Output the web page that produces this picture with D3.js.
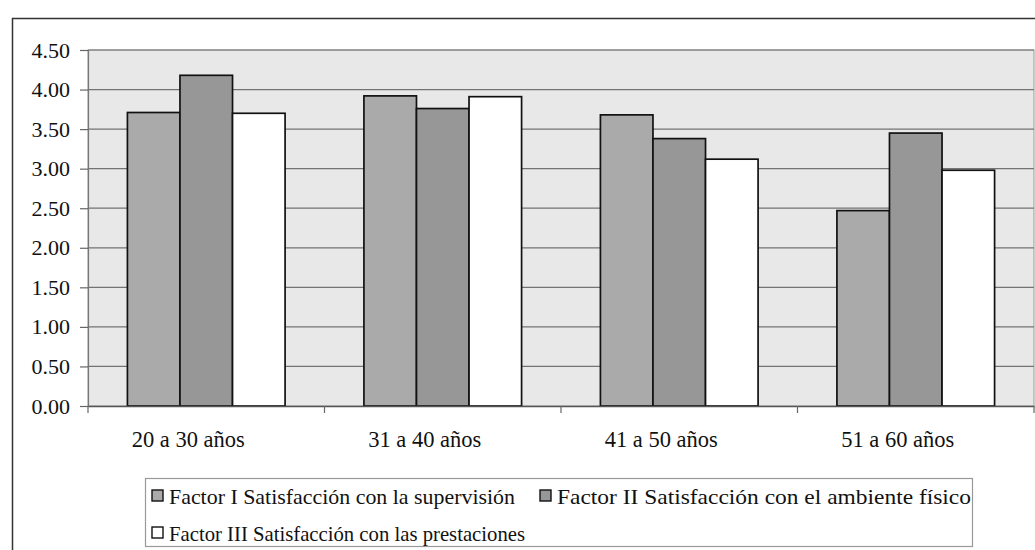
<!DOCTYPE html>
<html>
<head>
<meta charset="utf-8">
<script src="https://cdn.jsdelivr.net/npm/d3@7"></script>
<style>
  html, body { margin: 0; padding: 0; background: #fff; }
  svg { display: block; }
  svg text { font-family: "Liberation Serif", "Times New Roman", serif; }
</style>
</head>
<body>
<svg id="chart" width="1035" height="550"></svg>
<script>
const categories = ["20 a 30 años", "31 a 40 años", "41 a 50 años", "51 a 60 años"];
const seriesNames = [
  "Factor I Satisfacción con la supervisión",
  "Factor II Satisfacción con el ambiente físico",
  "Factor III Satisfacción con las prestaciones"
];
const factorI   = [3.71, 3.92, 3.68, 2.47];
const factorII  = [4.18, 3.76, 3.38, 3.45];
const factorIII = [3.70, 3.91, 3.12, 2.98];
const yTicks = [0, 0.5, 1, 1.5, 2, 2.5, 3, 3.5, 4, 4.5];

const seriesValues = [factorI, factorII, factorIII];
const colors = ["#aaaaaa", "#979797", "#ffffff"];

const svg = d3.select("#chart");
const W = 1035, H = 550;
const plot = { left: 88, right: 1034, top: 50, bottom: 406 };

// outer frame
svg.append("rect").attr("x", 12.5).attr("y", 18.5).attr("width", W + 20).attr("height", H + 20)
  .attr("fill", "#fff").attr("stroke", "#333").attr("stroke-width", 1.5);

const x0 = d3.scaleBand().domain(categories).range([plot.left, plot.right]).paddingInner(0).paddingOuter(0);
const groupW = x0.bandwidth() / 1.5;
const x1 = d3.scaleBand().domain(d3.range(3)).range([0, groupW]).padding(0);
const y = d3.scaleLinear().domain([0, 4.5]).range([plot.bottom, plot.top]);

// plot background
svg.append("rect").attr("x", plot.left).attr("y", plot.top)
  .attr("width", plot.right - plot.left).attr("height", plot.bottom - plot.top)
  .attr("fill", "#e8e8e8").attr("stroke", "#9a9a9a").attr("stroke-width", 1);

// gridlines
svg.append("g").selectAll("line").data(yTicks.filter(d => d > 0)).join("line")
  .attr("x1", plot.left).attr("x2", plot.right)
  .attr("y1", d => y(d)).attr("y2", d => y(d))
  .attr("stroke", "#737373").attr("stroke-width", 1.2);

// bars
const groups = svg.append("g").selectAll("g").data(categories).join("g")
  .attr("transform", c => `translate(${x0(c) + (x0.bandwidth() - groupW) / 2},0)`);
groups.selectAll("rect").data((c, i) => seriesValues.map((s, k) => ({ k, v: s[i] }))).join("rect")
  .attr("x", d => x1(d.k)).attr("width", x1.bandwidth())
  .attr("y", d => y(d.v)).attr("height", d => y(0) - y(d.v))
  .attr("fill", d => colors[d.k]).attr("stroke", "#111").attr("stroke-width", 1.7);

// y axis
const yAxis = d3.axisLeft(y).tickValues(yTicks).tickFormat(d3.format(".2f")).tickSize(8).tickPadding(10);
const gy = svg.append("g").attr("transform", `translate(${plot.left},0)`).call(yAxis);
gy.attr("font-family", null);
gy.select(".domain").attr("stroke", "#777").attr("stroke-width", 1.2);
gy.selectAll(".tick line").attr("stroke", "#666").attr("stroke-width", 1.2);
gy.selectAll(".tick text").attr("font-size", 22).attr("fill", "#111");

// x axis
const xAxis = d3.axisBottom(x0).tickSize(0).tickPadding(25);
const gx = svg.append("g").attr("transform", `translate(0,${plot.bottom})`).call(xAxis);
gx.attr("font-family", null);
gx.select(".domain").attr("stroke", "#555").attr("stroke-width", 1.4);
gx.selectAll(".tick text").attr("font-size", 22.5).attr("fill", "#111").attr("dx", -18);
// x boundary ticks
svg.append("g").selectAll("line").data(categories.concat(["end"])).join("line")
  .attr("x1", (c, i) => i < categories.length ? x0(c) : plot.right)
  .attr("x2", (c, i) => i < categories.length ? x0(c) : plot.right)
  .attr("y1", plot.bottom).attr("y2", plot.bottom + 7)
  .attr("stroke", "#666").attr("stroke-width", 1.2);

// legend
const lg = svg.append("g");
lg.append("rect").attr("x", 145.5).attr("y", 478.5).attr("width", 827).attr("height", 68)
  .attr("fill", "#fff").attr("stroke", "#999").attr("stroke-width", 1.2);
const legendPos = [ { x: 152, y: 496, w: 346 }, { x: 540, y: 496, w: 414 }, { x: 152, y: 533, w: 356 } ];
seriesNames.forEach((name, k) => {
  const p = legendPos[k];
  lg.append("rect").attr("x", p.x).attr("y", p.y - 6).attr("width", 11).attr("height", 11)
    .attr("fill", colors[k]).attr("stroke", "#111").attr("stroke-width", 1.4);
  lg.append("text").attr("x", p.x + 17).attr("y", p.y).attr("dy", "0.35em")
    .attr("font-size", 22).attr("fill", "#111")
    .attr("textLength", p.w).attr("lengthAdjust", "spacingAndGlyphs").text(name);
});
</script>
</body>
</html>
